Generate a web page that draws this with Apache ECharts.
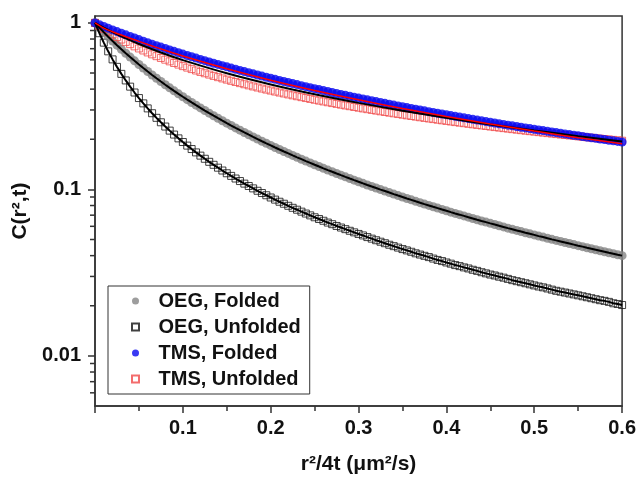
<!DOCTYPE html>
<html>
<head>
<meta charset="utf-8">
<script src="https://cdn.jsdelivr.net/npm/echarts@6/dist/echarts.min.js"></script>
<style>
  html, body { margin: 0; padding: 0; background: #fff; }
  #chart { width: 639px; height: 482px; }
</style>
</head>
<body>
<div id="chart"></div>
<script>
// r^2/4t sampling grid (um^2/s)
const xValues = [
  0, 0.005, 0.01, 0.015, 0.02, 0.025, 0.03, 0.035, 0.04, 0.045,
  0.05, 0.055, 0.06, 0.065, 0.07, 0.075, 0.08, 0.085, 0.09, 0.095,
  0.1, 0.105, 0.11, 0.115, 0.12, 0.125, 0.13, 0.135, 0.14, 0.145,
  0.15, 0.155, 0.16, 0.165, 0.17, 0.175, 0.18, 0.185, 0.19, 0.195,
  0.2, 0.205, 0.21, 0.215, 0.22, 0.225, 0.23, 0.235, 0.24, 0.245,
  0.25, 0.255, 0.26, 0.265, 0.27, 0.275, 0.28, 0.285, 0.29, 0.295,
  0.3, 0.305, 0.31, 0.315, 0.32, 0.325, 0.33, 0.335, 0.34, 0.345,
  0.35, 0.355, 0.36, 0.365, 0.37, 0.375, 0.38, 0.385, 0.39, 0.395,
  0.4, 0.405, 0.41, 0.415, 0.42, 0.425, 0.43, 0.435, 0.44, 0.445,
  0.45, 0.455, 0.46, 0.465, 0.47, 0.475, 0.48, 0.485, 0.49, 0.495,
  0.5, 0.505, 0.51, 0.515, 0.52, 0.525, 0.53, 0.535, 0.54, 0.545,
  0.55, 0.555, 0.56, 0.565, 0.57, 0.575, 0.58, 0.585, 0.59, 0.595,
  0.6
];

// C(r^2, t) for each sample
const oegFolded = [
  1, 0.9365, 0.8789, 0.8264, 0.7785, 0.7347, 0.6944, 0.6574, 0.6233, 0.5917,
  0.5625, 0.5354, 0.5102, 0.4867, 0.4649, 0.4444, 0.4253, 0.4074, 0.3906, 0.3748,
  0.36, 0.3460, 0.3328, 0.3204, 0.3086, 0.2975, 0.2870, 0.2770, 0.2675, 0.2585,
  0.25, 0.2419, 0.2341, 0.2268, 0.2197, 0.2130, 0.2066, 0.2005, 0.1946, 0.1890,
  0.1837, 0.1785, 0.1736, 0.1689, 0.1644, 0.16, 0.1558, 0.1518, 0.1479, 0.1442,
  0.1406, 0.1372, 0.1338, 0.1306, 0.1276, 0.1246, 0.1217, 0.1189, 0.1162, 0.1136,
  0.1111, 0.1087, 0.1063, 0.1041, 0.1019, 0.0997, 0.0977, 0.0957, 0.0937, 0.0918,
  0.09, 0.0882, 0.0865, 0.0848, 0.0832, 0.0816, 0.0801, 0.0786, 0.0772, 0.0758,
  0.0744, 0.0730, 0.0717, 0.0705, 0.0693, 0.0681, 0.0669, 0.0657, 0.0646, 0.0636,
  0.0625, 0.0615, 0.0605, 0.0595, 0.0585, 0.0576, 0.0567, 0.0558, 0.0549, 0.0541,
  0.0533, 0.0524, 0.0517, 0.0509, 0.0501, 0.0494, 0.0487, 0.0480, 0.0473, 0.0466,
  0.0459, 0.0453, 0.0446, 0.0440, 0.0434, 0.0428, 0.0422, 0.0416, 0.0411, 0.0405,
  0.04
];

const oegUnfolded = [
  1, 0.8668, 0.7607, 0.6747, 0.6037, 0.5443, 0.4941, 0.4512, 0.4141, 0.3818,
  0.3536, 0.3286, 0.3065, 0.2867, 0.2690, 0.2530, 0.2385, 0.2254, 0.2134, 0.2025,
  0.1925, 0.1832, 0.1747, 0.1668, 0.1595, 0.1527, 0.1464, 0.1405, 0.1350, 0.1298,
  0.125, 0.1205, 0.1162, 0.1122, 0.1083, 0.1048, 0.1014, 0.0981, 0.0951, 0.0922,
  0.0894, 0.0868, 0.0843, 0.0820, 0.0797, 0.0775, 0.0755, 0.0735, 0.0716, 0.0698,
  0.0680, 0.0664, 0.0648, 0.0632, 0.0618, 0.0603, 0.0590, 0.0577, 0.0564, 0.0552,
  0.0540, 0.0529, 0.0517, 0.0506, 0.0495, 0.0485, 0.0475, 0.0465, 0.0456, 0.0447,
  0.0438, 0.0430, 0.0422, 0.0413, 0.0406, 0.0399, 0.0392, 0.0384, 0.0377, 0.0371,
  0.0364, 0.0358, 0.0351, 0.0346, 0.0340, 0.0335, 0.0329, 0.0324, 0.0318, 0.0313,
  0.0308, 0.0304, 0.0299, 0.0295, 0.0290, 0.0285, 0.0281, 0.0277, 0.0273, 0.0269,
  0.0265, 0.0261, 0.0258, 0.0254, 0.0250, 0.0246, 0.0243, 0.0240, 0.0237, 0.0234,
  0.0231, 0.0228, 0.0225, 0.0222, 0.0219, 0.0216, 0.0214, 0.0211, 0.0207, 0.0205,
  0.0202
];

const tmsFolded = [
  1, 0.9755, 0.9520, 0.9294, 0.9077, 0.8869, 0.8668, 0.8474, 0.8288, 0.8109,
  0.7936, 0.7769, 0.7607, 0.7452, 0.7301, 0.7155, 0.7015, 0.6878, 0.6747, 0.6619,
  0.6495, 0.6375, 0.6259, 0.6146, 0.6037, 0.5931, 0.5827, 0.5727, 0.5630, 0.5535,
  0.5443, 0.5354, 0.5267, 0.5182, 0.5100, 0.5019, 0.4941, 0.4865, 0.4791, 0.4718,
  0.4648, 0.4579, 0.4512, 0.4446, 0.4382, 0.4320, 0.4259, 0.4199, 0.4141, 0.4084,
  0.4028, 0.3974, 0.3921, 0.3869, 0.3818, 0.3769, 0.3720, 0.3672, 0.3626, 0.3580,
  0.3536, 0.3492, 0.3449, 0.3407, 0.3366, 0.3326, 0.3286, 0.3247, 0.3209, 0.3172,
  0.3136, 0.3100, 0.3065, 0.3030, 0.2996, 0.2963, 0.2930, 0.2898, 0.2867, 0.2836,
  0.2806, 0.2776, 0.2747, 0.2718, 0.2690, 0.2662, 0.2634, 0.2608, 0.2581, 0.2555,
  0.2530, 0.2505, 0.2480, 0.2456, 0.2432, 0.2408, 0.2385, 0.2363, 0.2340, 0.2318,
  0.2296, 0.2275, 0.2254, 0.2233, 0.2213, 0.2193, 0.2173, 0.2154, 0.2134, 0.2115,
  0.2097, 0.2078, 0.2060, 0.2042, 0.2025, 0.2008, 0.1991, 0.1974, 0.1957, 0.1941,
  0.1925
];

const tmsUnfolded = [
  1, 0.9577, 0.9192, 0.8840, 0.8517, 0.8219, 0.7944, 0.7689, 0.7452, 0.7230,
  0.7023, 0.6828, 0.6646, 0.6473, 0.6311, 0.6158, 0.6012, 0.5875, 0.5744, 0.5619,
  0.5500, 0.5387, 0.5279, 0.5176, 0.5077, 0.4983, 0.4892, 0.4805, 0.4721, 0.4640,
  0.4563, 0.4488, 0.4416, 0.4347, 0.4280, 0.4215, 0.4152, 0.4092, 0.4033, 0.3977,
  0.3922, 0.3869, 0.3817, 0.3767, 0.3718, 0.3671, 0.3625, 0.3580, 0.3537, 0.3494,
  0.3453, 0.3413, 0.3374, 0.3336, 0.3299, 0.3263, 0.3227, 0.3193, 0.3159, 0.3126,
  0.3094, 0.3063, 0.3032, 0.3002, 0.2973, 0.2944, 0.2916, 0.2889, 0.2862, 0.2835,
  0.2810, 0.2784, 0.2759, 0.2735, 0.2711, 0.2688, 0.2665, 0.2643, 0.2621, 0.2599,
  0.2578, 0.2557, 0.2536, 0.2516, 0.2497, 0.2477, 0.2458, 0.2439, 0.2421, 0.2403,
  0.2385, 0.2367, 0.2350, 0.2333, 0.2317, 0.2300, 0.2284, 0.2268, 0.2252, 0.2237,
  0.2222, 0.2207, 0.2192, 0.2178, 0.2163, 0.2149, 0.2135, 0.2122, 0.2108, 0.2095,
  0.2082, 0.2069, 0.2056, 0.2044, 0.2031, 0.2019, 0.2007, 0.1995, 0.1983, 0.1972,
  0.1960
];

// Fitted curves for the TMS data
const fitX = [0, 0.01, 0.02, 0.03, 0.05, 0.075, 0.1, 0.15, 0.2, 0.25, 0.3, 0.35, 0.4, 0.45, 0.5, 0.55, 0.6];
const tmsFoldedFit = [1, 0.93, 0.885, 0.845, 0.774, 0.698, 0.633, 0.531, 0.453, 0.393, 0.345, 0.306, 0.274, 0.247, 0.224, 0.2045, 0.188];
const tmsUnfoldedFit = [1, 0.9355, 0.8793, 0.8298, 0.7466, 0.6638, 0.5977, 0.4984, 0.4270, 0.3729, 0.3308, 0.2969, 0.2690, 0.2456, 0.2259, 0.2089, 0.1942];

// Axis ticks and labels
const xTickLabels = ['0.1', '0.2', '0.3', '0.4', '0.5', '0.6'];
const yTickValues = [0.01, 0.1, 1];
const yTickLabels = ['0.01', '0.1', '1'];
const yMinorTicks = [0.006, 0.007, 0.008, 0.009,
  0.02, 0.03, 0.04, 0.05, 0.06, 0.07, 0.08, 0.09,
  0.2, 0.3, 0.4, 0.5, 0.6, 0.7, 0.8, 0.9];

const seriesNames = ['OEG, Folded', 'OEG, Unfolded', 'TMS, Folded', 'TMS, Unfolded'];

const FONT = "'Liberation Sans', Arial, Helvetica, sans-serif";
const AXIS_COLOR = '#333';
const TEXT_COLOR = '#111';
// open square marker, kept square inside the wide legend slot
const SQUARE = 'path://M0,0H10V10H0Z';

const pairs = (xs, ys) => xs.map((x, i) => [x, ys[i]]);

const chart = echarts.init(document.getElementById('chart'), null, { renderer: 'canvas' });

chart.setOption({
  animation: false,
  backgroundColor: '#fff',
  textStyle: { fontFamily: FONT },
  grid: {
    left: 95, right: 15, top: 16, bottom: 76,
    show: true, borderColor: AXIS_COLOR, borderWidth: 1.5, backgroundColor: 'transparent'
  },
  legend: {
    data: [
      { name: seriesNames[0], icon: 'circle' },
      { name: seriesNames[1], icon: SQUARE },
      { name: seriesNames[2], icon: 'circle' },
      { name: seriesNames[3], icon: SQUARE }
    ],
    orient: 'vertical',
    left: 108, top: 286,
    padding: [5, 9, 5, 23],
    itemWidth: 36, itemHeight: 7, itemGap: 6,
    symbolKeepAspect: true,
    backgroundColor: '#fff',
    borderColor: AXIS_COLOR, borderWidth: 1,
    selectedMode: false,
    textStyle: { fontFamily: FONT, fontSize: 20, fontWeight: 'bold', color: TEXT_COLOR, lineHeight: 20 }
  },
  xAxis: {
    type: 'value', min: 0, max: 0.6, interval: 0.1,
    name: 'r²/4t (μm²/s)', nameLocation: 'middle', nameGap: 48,
    nameTextStyle: { fontFamily: FONT, fontSize: 21, fontWeight: 'bold', color: TEXT_COLOR },
    axisLine: { lineStyle: { color: AXIS_COLOR, width: 1.5 } },
    axisTick: { length: 7, lineStyle: { color: AXIS_COLOR, width: 1.5 } },
    minorTick: { show: true, splitNumber: 2, length: 5, lineStyle: { color: AXIS_COLOR, width: 1.5 } },
    splitLine: { show: false },
    axisLabel: {
      fontFamily: FONT, fontSize: 20, fontWeight: 'bold', color: TEXT_COLOR, margin: 12,
      formatter: v => {
        const i = Math.round(v * 10) - 1;
        return i >= 0 ? xTickLabels[i] : '';
      }
    }
  },
  yAxis: {
    type: 'log', logBase: 10, min: 0.005, max: 1.1,
    name: 'C(r²,t)', nameLocation: 'middle', nameGap: 58,
    nameTextStyle: { fontFamily: FONT, fontSize: 21, fontWeight: 'bold', color: TEXT_COLOR },
    axisLine: { lineStyle: { color: AXIS_COLOR, width: 1.5 } },
    axisTick: { customValues: yTickValues, length: 7, lineStyle: { color: AXIS_COLOR, width: 1.5 } },
    splitLine: { show: false },
    axisLabel: {
      customValues: yTickValues,
      fontFamily: FONT, fontSize: 20, fontWeight: 'bold', color: TEXT_COLOR, margin: 14,
      formatter: v => {
        let best = 0;
        yTickValues.forEach((t, i) => { if (Math.abs(Math.log10(t) - Math.log10(v)) < 0.01) best = i; });
        return yTickLabels[best];
      }
    }
  },
  series: [
    {
      name: 'OEG, Unfolded', type: 'scatter', symbol: SQUARE, symbolSize: 7, symbolKeepAspect: true,
      data: pairs(xValues, oegUnfolded),
      itemStyle: { color: 'rgba(255,255,255,0)', borderColor: '#111', borderWidth: 1 }
    },
    {
      name: 'OEG, Folded', type: 'scatter', symbol: 'circle', symbolSize: 9, symbolKeepAspect: true,
      data: pairs(xValues, oegFolded),
      itemStyle: { color: '#858585' }
    },
    {
      name: 'TMS, Unfolded', type: 'scatter', symbol: SQUARE, symbolSize: 7, symbolKeepAspect: true,
      data: pairs(xValues, tmsUnfolded),
      itemStyle: { color: 'rgba(255,255,255,0)', borderColor: '#f04848', borderWidth: 1 }
    },
    {
      name: 'TMS, Folded', type: 'scatter', symbol: 'circle', symbolSize: 9, symbolKeepAspect: true,
      data: pairs(xValues, tmsFolded),
      itemStyle: { color: '#0808f0' }
    },
    {
      name: 'OEG, Folded fit', type: 'line', showSymbol: false, silent: true,
      data: pairs(xValues, oegFolded),
      lineStyle: { color: '#000', width: 2 }
    },
    {
      name: 'OEG, Unfolded fit', type: 'line', showSymbol: false, silent: true,
      data: pairs(xValues, oegUnfolded),
      lineStyle: { color: '#000', width: 2 }
    },
    {
      name: 'TMS, Unfolded fit', type: 'line', showSymbol: false, silent: true, smooth: 0.3,
      data: pairs(fitX, tmsUnfoldedFit),
      lineStyle: { color: '#000', width: 2 }
    },
    {
      name: 'TMS, Folded fit', type: 'line', showSymbol: false, silent: true, smooth: 0.3,
      data: pairs(fitX, tmsFoldedFit),
      lineStyle: { color: '#ff0000', width: 1.5 }
    },
    {
      // logarithmic minor ticks on the y axis (2..9 within each decade)
      name: 'y minor ticks', type: 'custom', silent: true,
      data: yMinorTicks.map(v => [0, v]),
      renderItem: (params, api) => {
        const p = api.coord([api.value(0), api.value(1)]);
        return {
          type: 'line',
          shape: { x1: p[0] - 5, y1: p[1], x2: p[0], y2: p[1] },
          style: { stroke: AXIS_COLOR, lineWidth: 1.5 }
        };
      }
    }
  ]
});
</script>
</body>
</html>
